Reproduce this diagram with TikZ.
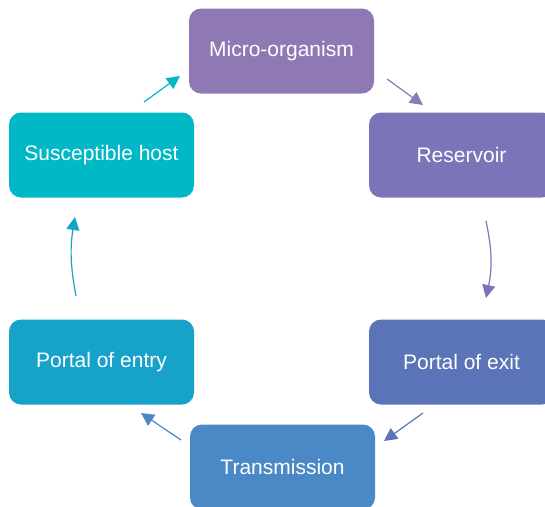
\documentclass[tikz,border=0pt]{standalone}
\usepackage{fontspec}
\setmainfont{Liberation Sans}
\usetikzlibrary{arrows.meta}
\definecolor{cMicro}{HTML}{8F79B5}
\definecolor{cRes}{HTML}{7A74B8}
\definecolor{cExit}{HTML}{5B74B8}
\definecolor{cTrans}{HTML}{4A88C6}
\definecolor{cEntry}{HTML}{17A2C9}
\definecolor{cHost}{HTML}{00B8C6}
\tikzset{
  stage/.style={rounded corners=12pt, minimum width=185pt, minimum height=85pt,
    inner sep=0pt, text=white, font=\fontsize{21}{24}\selectfont},
  flow/.style={line width=1.2pt, -{Triangle[length=13pt,width=13pt]}},
}
\begin{document}
\begin{tikzpicture}[x=1pt,y=-1pt]
\useasboundingbox (0,0) rectangle (545,506);
\clip (0,0) rectangle (545,506);
% stages of the chain of infection
\node[stage, fill=cMicro] (micro) at (281.5,51) {Micro-organism};
\node[stage, fill=cRes]   (res)   at (461.5,155) {Reservoir};
\node[stage, fill=cExit]  (exit)  at (461.5,362) {Portal of exit};
\node[stage, fill=cTrans] (trans) at (282.5,467) {Transmission};
\node[stage, fill=cEntry] (entry) at (101.5,362) {Portal of entry};
\node[stage, fill=cHost]  (host)  at (101.5,155) {Susceptible host};
% arrow end points in the gaps between stages
\coordinate (a1) at (387,79);  \coordinate (b1) at (423,105);
\coordinate (a2) at (486,221); \coordinate (b2) at (486,298);
\coordinate (a3) at (423,413); \coordinate (b3) at (384,441);
\coordinate (a4) at (181,440); \coordinate (b4) at (141,413);
\coordinate (a5) at (76,296);  \coordinate (b5) at (75,217);
\coordinate (a6) at (144,102); \coordinate (b6) at (180,76);
\draw[flow, cMicro] (a1) -- (b1);
\draw[flow, cRes]   (a2) to[bend left=12] (b2);
\draw[flow, cExit]  (a3) -- (b3);
\draw[flow, cTrans] (a4) -- (b4);
\draw[flow, cEntry] (a5) to[bend left=10] (b5);
\draw[flow, cHost]  (a6) -- (b6);
\end{tikzpicture}
\end{document}
